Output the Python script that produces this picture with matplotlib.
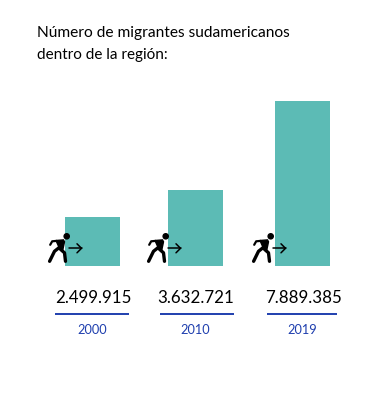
import matplotlib
matplotlib.use("Agg")
import matplotlib.pyplot as plt
from matplotlib.patches import Circle, Polygon

title_lines = ["Número de migrantes sudamericanos", "dentro de la región:"]
years = ["2000", "2010", "2019"]
value_labels = ["2.499.915", "3.632.721", "7.889.385"]
bar_heights = [49, 76, 165]

BAR = "#5cbbb5"
BLUE = "#1f3fae"
centers = [92.5, 195.5, 302.5]
rule_spans = [(55, 129), (160, 234), (267, 337)]
base = 266.5

plt.rcParams["font.family"] = ["Lato", "DejaVu Sans"]
fig = plt.figure(figsize=(3.73, 4.02), dpi=100)
ax = fig.add_axes([0, 0, 1, 1])
ax.set_xlim(0, 373)
ax.set_ylim(402, 0)
ax.axis("off")

ax.bar(centers, [-h for h in bar_heights], width=55, bottom=base, color=BAR, zorder=1)

def runner(ox):
    k = dict(color="black", solid_capstyle="round", solid_joinstyle="round", zorder=3)
    hy = 237.3
    ax.add_patch(Circle((ox + 18.7, hy), 2.6, color="black", zorder=3))
    ax.add_patch(Polygon([(ox + 8, hy + 4.2), (ox + 15.5, hy + 3.6), (ox + 16.5, hy + 5.5),
                          (ox + 14.5, hy + 15), (ox + 11, hy + 11)], color="black", zorder=3))
    ax.plot([ox + 2.2, ox + 4.2, ox + 8.5], [hy + 8.5, hy + 5, hy + 4.6], lw=1.6, **k)
    ax.plot([ox + 1.6, ox + 6.5, ox + 11.5], [hy + 25, hy + 15, hy + 11], lw=2.4, **k)
    ax.plot([ox + 12.5, ox + 16.5, ox + 17.5], [hy + 13, hy + 16.5, hy + 25], lw=2.4, **k)
    ax.plot([ox + 20.7, ox + 33.5], [hy + 12, hy + 12], lw=1.1, **k)
    ax.plot([ox + 29, ox + 33.5, ox + 29], [hy + 7.5, hy + 12, hy + 16.5], lw=1.1, **k)

for c, off, lab, yr, (x0, x1), lx in zip(centers, [48, 147, 252], value_labels, years, rule_spans,
                                          [93, 196, 303]):
    runner(off)
    ax.text(lx, 298, lab, ha="center", va="center", fontsize=12.2, color="black")
    ax.plot([x0, x1], [314.5, 314.5], color=BLUE, lw=1.4, solid_capstyle="butt")
    ax.text(c, 330, yr, ha="center", va="center", fontsize=9.2, color=BLUE)

ax.text(37, 33, title_lines[0], ha="left", va="center", fontsize=11.2, color="black")
ax.text(37, 55, title_lines[1], ha="left", va="center", fontsize=11, color="black")

fig.savefig("out.png", dpi=100)
